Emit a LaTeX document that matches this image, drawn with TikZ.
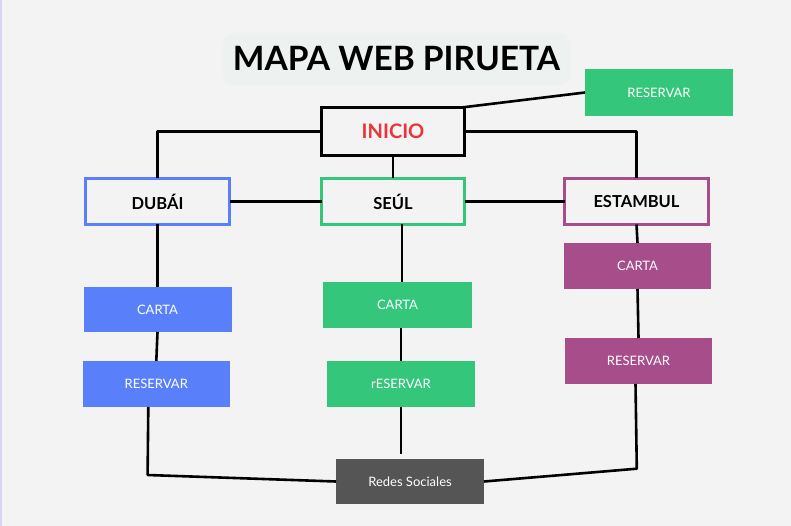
\documentclass[tikz,border=0pt]{standalone}
\usepackage{fontspec}
\setmainfont{Lato}
\definecolor{bg}{HTML}{F3F3F3}
\definecolor{pill}{HTML}{EDF1EF}
\definecolor{cblue}{HTML}{5A7FFA}
\definecolor{cgreen}{HTML}{34C77B}
\definecolor{cpurple}{HTML}{A64D8A}
\definecolor{cred}{HTML}{E8353A}
\definecolor{cgray}{HTML}{555555}
\definecolor{lav}{HTML}{D9D5F5}
\begin{document}
\begin{tikzpicture}[x=1pt,y=-1pt,
  conn/.style={line width=2.6pt, black, line join=round},
  hub/.style={draw=#1, line width=3pt, fill=bg, inner sep=0pt, outer sep=0pt,
    minimum width=144pt, minimum height=46pt, font=\fontsize{16.5}{18}\selectfont\bfseries, text=black},
  leaf/.style={fill=#1, inner sep=0pt, outer sep=0pt, minimum width=148pt, minimum height=46pt,
    text=white, font=\fontsize{13}{15}\selectfont}]
\fill[bg] (0,0) rectangle (791,526);
\fill[lav] (0,0) rectangle (2,526);
\useasboundingbox (0,0) rectangle (791,526);
% title
\node[fill=pill, rounded corners=12pt, minimum width=349pt, minimum height=52pt, inner sep=0pt,
  font=\fontsize{33.5}{38}\selectfont\bfseries, text=black] (title) at (396.5,59) {MAPA WEB PIRUETA};
% hubs
\node[hub=black, line width=3.5pt, minimum width=143pt, minimum height=48pt,
  font=\fontsize{20}{22}\selectfont\bfseries, text=cred] (ini) at (393,131.5) {INICIO};
\node[hub=cblue] (dub) at (157.5,201.5) {DUBÁI};
\node[hub=cgreen, minimum width=143pt] (seul) at (393,201.5) {SEÚL};
\node[hub=cpurple] (est) at (636.5,201.5) {ESTAMBUL};
% leaves
\node[leaf=cgreen, minimum height=47pt] (rtop) at (659,92.5) {RESERVAR};
\node[leaf=cblue, minimum height=45pt] (bc) at (157.5,309.5) {CARTA};
\node[leaf=cblue, minimum width=147.5pt] (br) at (156.3,384) {RESERVAR};
\node[leaf=cgreen, minimum width=149pt] (gc) at (397.5,305) {CARTA};
\node[leaf=cgreen] (gr) at (401,384) {rESERVAR};
\node[leaf=cpurple, minimum width=147pt] (pc) at (637.5,266) {CARTA};
\node[leaf=cpurple, minimum width=147pt] (pr) at (638.5,361) {RESERVAR};
\node[leaf=cgray, minimum height=45pt] (red) at (410,481.5) {Redes Sociales};
\coordinate (bl) at (147.6,475);
\coordinate (brc) at (636.8,468.7);
% connectors
\draw[conn] ([xshift=-3pt]ini.north east) -- (rtop.west);
\draw[conn] (ini.west) -| (dub.north);
\draw[conn] (ini.east) -| (est.north);
\draw[conn] (ini.south) -- (seul.north);
\draw[conn] (dub.east) -- (seul.west);
\draw[conn] (seul.east) -- (est.west);
\draw[conn] (dub.south) -- (bc.north);
\draw[conn] (bc.south) -- (br.north);
\draw[conn] ([xshift=9pt]seul.south) -- ([xshift=4.5pt]gc.north);
\draw[conn] ([xshift=3.5pt]gc.south) -- (gr.north);
\draw[conn] (gr.south) -- ([yshift=5pt]red.north -| gr.south);
\draw[conn] (est.south) -- (pc.north);
\draw[conn] (pc.south) -- (pr.north);
\draw[conn] ([xshift=-8pt]br.south) -- (bl) -- (red.west);
\draw[conn] ([xshift=-3pt]pr.south) -- (brc) -- (red.east);
\end{tikzpicture}
\end{document}
